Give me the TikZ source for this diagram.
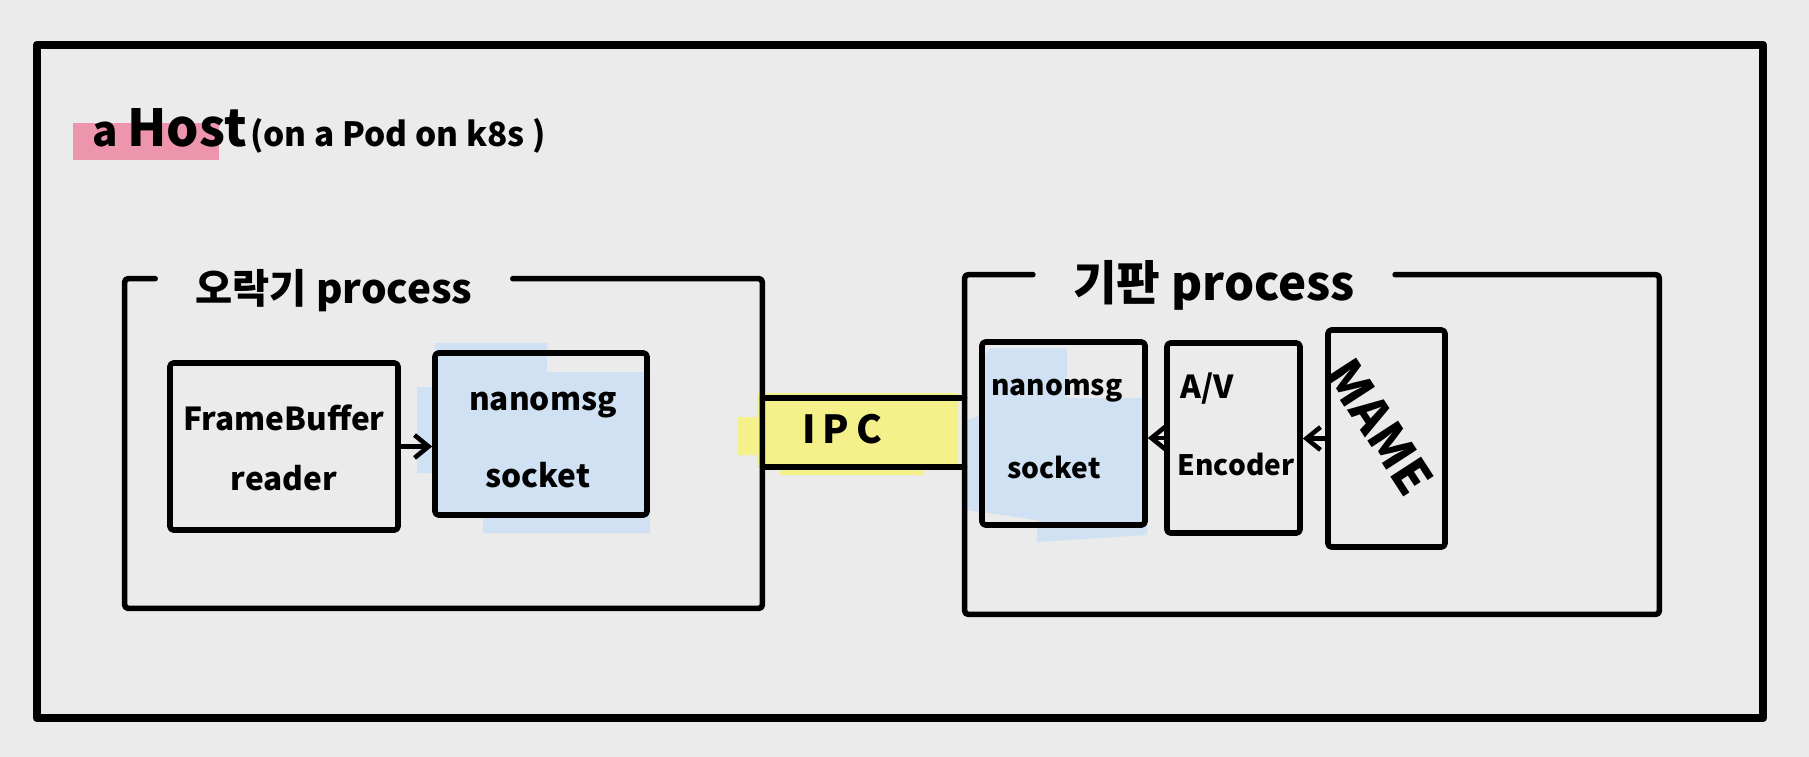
\documentclass[tikz,border=0pt]{standalone}
\usepackage{fontspec}
\setmainfont{Noto Sans CJK KR}
\usetikzlibrary{fit,arrows.meta}
\definecolor{paper}{HTML}{EBEBEB}
\definecolor{marker}{HTML}{EE95AE}
\definecolor{sockblue}{HTML}{CFE1F2}
\definecolor{ipcyellow}{HTML}{F5F18A}

\begin{document}
\begin{tikzpicture}[
  x=0.02cm,y=-0.02cm,
  every path/.style={line cap=round,line join=round},
  box/.style={draw,line width=3.2pt,rounded corners=2pt,inner sep=0pt},
  area/.style={inner sep=0pt},
  txt/.style={inner sep=0pt,anchor=base,font=\fontsize{18}{22}\selectfont\bfseries},
  small/.style={font=\fontsize{16}{20}\selectfont\bfseries},
  tag/.style={inner xsep=8mm,inner ysep=0pt,anchor=base},
  edge/.style={line width=3.2pt,rounded corners=2pt},
  pipe/.style={line width=3pt},
  flow/.style={line width=2.6pt,
    -{Straight Barb[length=8pt,width=13pt,line width=2.6pt]}}]
  \fill[paper] (0,0) rectangle (1809,757);
  \useasboundingbox (0,0) rectangle (1809,757);

  % marker strokes under the title, the sockets and the IPC link
  \fill[marker] (73,123) rectangle (219,160);
  \fill[sockblue] (435,343) -- (547,343) -- (547,372) -- (650,372)
    -- (650,533) -- (483,533) -- (483,515) -- (435,515) -- (435,473)
    -- (417,473) -- (417,387) -- (435,387) -- cycle;
  \fill[sockblue] (990,348) -- (1067,348) -- (1067,398) -- (1147,398)
    -- (1147,535) -- (1037,542) -- (1037,520) -- (967,510) -- (967,420)
    -- (982,415) -- (982,360) -- cycle;
  \fill[ipcyellow] (757,393) -- (958,393) -- (958,467) -- (923,467)
    -- (923,475) -- (780,475) -- (780,467) -- (757,467) -- (757,455)
    -- (737,455) -- (737,417) -- (757,417) -- cycle;

  \node[draw,line width=5pt,inner sep=0pt,fit={(37,45) (1763,718)}] (host) {};
  \node[anchor=base west,inner sep=0pt,font=\bfseries] (title) at (92,147)
    {\fontsize{24}{28}\selectfont a \fontsize{29}{34}\selectfont Host%
     \hspace{2pt}\fontsize{19}{26}\selectfont(on a Pod on k8s )};

  % the two processes; the top edge breaks for the name
  \node[area,fit={(125,279) (762,608)}] (game) {};
  \node[tag,font=\fontsize{23}{28}\selectfont\bfseries] (gamename) at (334,303)
    {오락기 process};
  \draw[edge] (gamename.east |- game.north) -| (game.south east)
    -| (game.north west) -- (gamename.west |- game.north);
  \node[area,fit={(965,275) (1659,614)}] (board) {};
  \node[tag,font=\fontsize{27}{32}\selectfont\bfseries] (boardname) at (1214,300)
    {기판 process};
  \draw[edge] (boardname.east |- board.north) -| (board.south east)
    -| (board.north west) -- (boardname.west |- board.north);

  \coordinate (ipcup) at (850,398);
  \coordinate (ipcdown) at (850,467);
  \draw[pipe] (game.east |- ipcup) -- (board.west |- ipcup);
  \draw[pipe] (game.east |- ipcdown) -- (board.west |- ipcdown);
  \node[txt,font=\fontsize{22}{26}\selectfont\bfseries] (ipc) at (842,443)
    {I\kern4pt P\kern4pt C};

  \node[box,fit={(170,363) (398,530)}] (reader) {};
  \node[txt] (readerA) at (284,430) {FrameBuffer};
  \node[txt] (readerB) at (284,490) {reader};

  \node[box,fit={(435,353) (647,515)}] (sockL) {};
  \node[txt] (sockLA) at (543,410) {nanomsg};
  \node[txt] (sockLB) at (538,487) {socket};

  \node[box,fit={(982,342) (1145,525)}] (sockR) {};
  \node[txt,small] (sockRA) at (1057,395) {nanomsg};
  \node[txt,small] (sockRB) at (1054,478) {socket};

  \node[box,fit={(1167,343) (1300,533)}] (enc) {};
  \node[txt,anchor=base west] (encA) at (1180,398) {A/V};
  \node[txt,small] (encB) at (1236,475) {Encoder};

  \node[box,fit={(1328,330) (1445,547)}] (mame) {};
  \node[inner sep=0pt,rotate=-57,font=\fontsize{28}{32}\selectfont\bfseries]
    (mameA) at (1380,427) {MAME};

  \draw[flow] (reader.east) -- (reader.east -| sockL.west);
  \draw[flow] (enc.west) -- (enc.west -| sockR.east);
  \draw[flow] (mame.west) -- (mame.west -| enc.east);
\end{tikzpicture}
\end{document}
